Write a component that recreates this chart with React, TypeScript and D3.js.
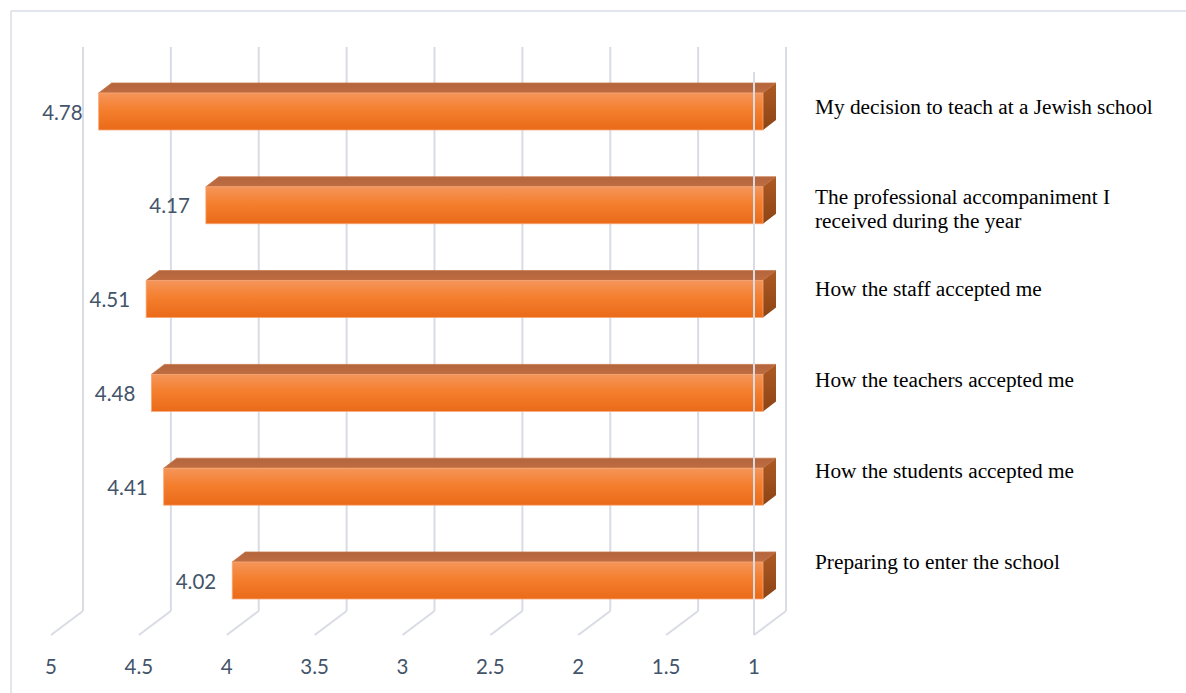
import React from "react";
import * as d3 from "d3";

const categories = [
  "My decision to teach at a Jewish school",
  "The professional accompaniment I received during the year",
  "How the staff accepted me",
  "How the teachers accepted me",
  "How the students accepted me",
  "Preparing to enter the school",
];
const categoryLines = [
  ["My decision to teach at a Jewish school"],
  ["The professional accompaniment I", "received during the year"],
  ["How the staff accepted me"],
  ["How the teachers accepted me"],
  ["How the students accepted me"],
  ["Preparing to enter the school"],
];
const values = [4.78, 4.17, 4.51, 4.48, 4.41, 4.02];
const ticks = [5, 4.5, 4, 3.5, 3, 2.5, 2, 1.5, 1];

const W = 1186;
const H = 693;
const GRID = "#D9DCE4";
const AXIS_TEXT = "#44546A";

export default function App() {
  // back-wall x scale (reversed axis)
  const xBack = d3.scaleLinear().domain([5, 1]).range([83, 786]);
  const DX = -32; // depth offset back->front
  const DY = 24;
  const xFront = (v: number) => xBack(v) + DX;
  const wallTop = 47;
  const wallBottom = 611;

  const yBar = d3.scalePoint<string>().domain(categories).range([64.6, 627.4]).padding(0.5);
  const yLabel = d3.scalePoint<string>().domain(categories).range([61, 607]).padding(0.5);
  const barH = 37;
  const faceOff = 9; // front face offset from front plane
  const sideDX = 13;
  const sideDY = -10;

  return (
    <svg width={W} height={H} style={{ position: "absolute", left: 0, top: 0, background: "#fff" }}>
      <defs>
        <linearGradient id="front" x1="0" y1="0" x2="0" y2="1">
          <stop offset="0" stopColor="#F5955A" />
          <stop offset="0.45" stopColor="#F47F2E" />
          <stop offset="1" stopColor="#EA6A18" />
        </linearGradient>
        <linearGradient id="top" x1="0" y1="0" x2="0" y2="1">
          <stop offset="0" stopColor="#B4653C" />
          <stop offset="1" stopColor="#BF6D42" />
        </linearGradient>
        <linearGradient id="side" x1="0" y1="0" x2="0" y2="1">
          <stop offset="0" stopColor="#AE5A24" />
          <stop offset="1" stopColor="#8C4414" />
        </linearGradient>
      </defs>
      {/* frame */}
      <line x1={11} y1={11} x2={W} y2={11} stroke={GRID} strokeWidth={1.5} />
      <line x1={11} y1={11} x2={11} y2={H} stroke={GRID} strokeWidth={1.5} />

      {/* back wall gridlines and floor diagonals */}
      {ticks.map((t) => (
        <g key={"g" + t}>
          <line x1={xBack(t)} y1={wallTop} x2={xBack(t)} y2={wallBottom} stroke={GRID} strokeWidth={2} />
          <line x1={xBack(t)} y1={wallBottom} x2={xFront(t)} y2={wallBottom + DY} stroke={GRID} strokeWidth={2} />
        </g>
      ))}

      {/* bars */}
      {categories.map((c, i) => {
        const v = values[i];
        const cy = yBar(c) as number;
        const x0 = xFront(v) + faceOff;
        const x1 = xFront(1) + faceOff;
        const y0 = cy - barH / 2;
        const y1 = cy + barH / 2;
        const topPath = `M${x0},${y0} L${x0 + sideDX},${y0 + sideDY} L${x1 + sideDX},${y0 + sideDY} L${x1},${y0} Z`;
        const sidePath = `M${x1},${y0} L${x1 + sideDX},${y0 + sideDY} L${x1 + sideDX},${y1 + sideDY} L${x1},${y1} Z`;
        return (
          <g key={c}>
            <path d={topPath} fill="url(#top)" stroke="#C67548" strokeWidth={0.8} />
            <path d={sidePath} fill="url(#side)" />
            <rect x={x0} y={y0} width={x1 - x0} height={barH} fill="url(#front)" stroke="#F7A877" strokeWidth={0.8} />
            <text
              x={x0 - 16}
              y={cy}
              textAnchor="end"
              dominantBaseline="central"
              fontFamily="Lato, 'Open Sans', sans-serif"
              fontSize={20.5}
              fill={AXIS_TEXT}
            >
              {v.toFixed(2)}
            </text>
          </g>
        );
      })}

      {/* front edge of the right side wall (over bars) */}
      <line x1={xFront(1)} y1={wallTop + DY + 1} x2={xFront(1)} y2={wallBottom + DY} stroke={GRID} strokeWidth={2} />

      {/* tick labels */}
      {ticks.map((t) => (
        <text
          key={"t" + t}
          x={xFront(t)}
          y={666}
          textAnchor="middle"
          dominantBaseline="central"
          fontFamily="Lato, 'Open Sans', sans-serif"
          fontSize={20.5}
          fill={AXIS_TEXT}
        >
          {t}
        </text>
      ))}

      {/* category labels */}
      {categories.map((c, i) => {
        const lines = categoryLines[i];
        const cy = yLabel(c) as number;
        const lh = 24;
        const start = cy - ((lines.length - 1) * lh) / 2 + (lines.length > 1 ? 11 : 0);
        return (
          <text
            key={"c" + c}
            x={815}
            fontFamily="'Liberation Serif', 'Times New Roman', serif"
            fontSize={21.3}
            fill="#000"
          >
            {lines.map((ln, j) => (
              <tspan key={j} x={815} y={start + j * lh} dominantBaseline="central">
                {ln}
              </tspan>
            ))}
          </text>
        );
      })}
    </svg>
  );
}
